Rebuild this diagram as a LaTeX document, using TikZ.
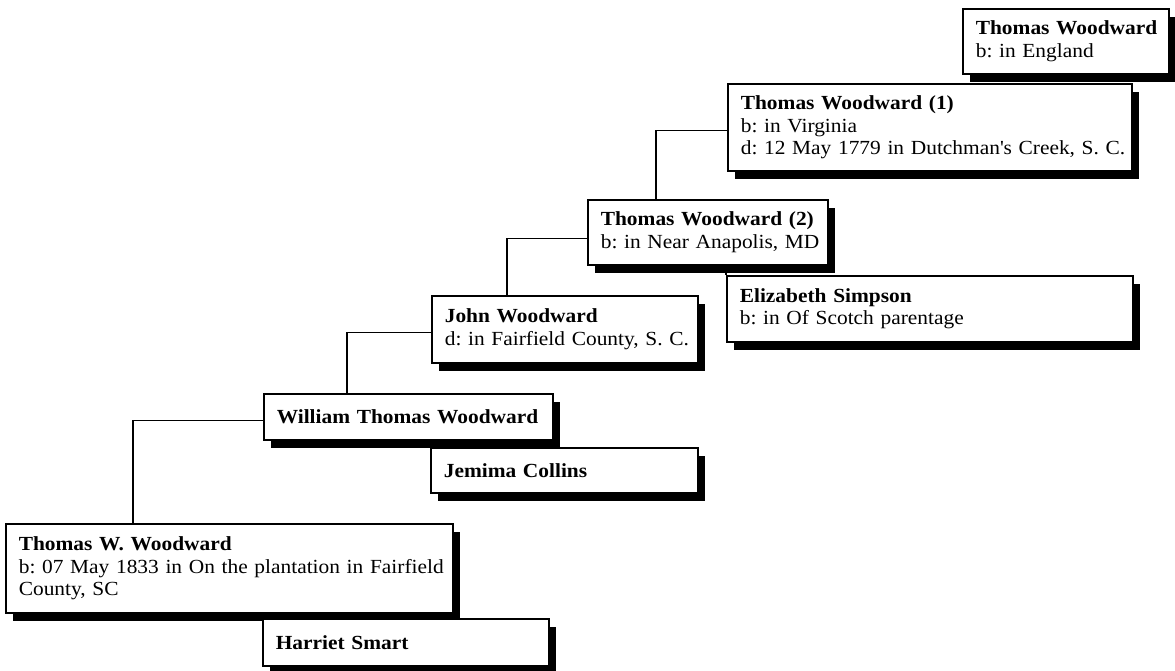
\documentclass[tikz,border=0pt]{standalone}
\usepackage{fontspec}
\setmainfont[FakeStretch=1.07]{Liberation Serif}
\usetikzlibrary{shadows}
\frenchspacing
\tikzset{
  person/.style={draw=black, line width=1.6pt, fill=white, anchor=north west,
    align=left, inner xsep=13pt, inner ysep=0pt,
    font=\fontsize{20}{22.5}\selectfont,
    drop shadow={shadow xshift=7pt, shadow yshift=-8pt, fill=black, opacity=1}},
  link/.style={draw=black, line width=1.3pt}
}
\newcommand{\pbox}[7]{% name, x, y, w, h, text width, text
  \node[person, minimum width=#4pt, minimum height=#5pt, text width=#6pt] (#1) at (#2,#3) {#7};}
\begin{document}
\begin{tikzpicture}[x=1pt,y=-1pt]
\useasboundingbox (0,0) rectangle (1175,670);
\pbox{B1}{962}{8}{206}{65}{180}{\mbox{\textbf{Thomas Woodward}}\\\mbox{b: in England}}
\pbox{B2}{727}{83}{404}{87}{378}{\mbox{\textbf{Thomas Woodward (1)}}\\\mbox{b: in Virginia}\\\mbox{d: 12 May 1779 in Dutchman\textquotesingle s Creek, S. C.}}
\pbox{B3}{587}{199}{240}{65}{214}{\mbox{\textbf{Thomas Woodward (2)}}\\\mbox{b: in Near Anapolis, MD}}
\pbox{E}{726}{275}{406}{66}{380}{\mbox{\textbf{Elizabeth Simpson}}\\\mbox{b: in Of Scotch parentage}}
\pbox{J}{431}{295}{266}{67}{240}{\mbox{\textbf{John Woodward}}\\\mbox{d: in Fairfield County, S. C.}}
\pbox{W}{263}{393}{289}{46}{263}{\mbox{\textbf{William Thomas Woodward}}}
\pbox{Je}{430}{447}{267}{45}{241}{\mbox{\textbf{Jemima Collins}}}
\pbox{T}{5}{523}{447}{89}{421}{\mbox{\textbf{Thomas W. Woodward}}\\\mbox{b: 07 May 1833 in On the plantation in Fairfield}\\\mbox{County, SC}}
\pbox{H}{262}{618}{286}{47}{260}{\mbox{\textbf{Harriet Smart}}}
% connectors
\draw[link] ([yshift=-3.5pt]B2.west) -| ([xshift=69pt]B3.north west);
\draw[link] ([yshift=-6.5pt]B3.west) -| ([xshift=76pt]J.north west);
\draw[link] ([yshift=-3.5pt]J.west) -| ([xshift=84pt]W.north west);
\draw[link] ([yshift=-4pt]W.west) -| ([xshift=128pt]T.north west);
\draw[link] (B3.south -| E.north west) -- (E.north west);
\draw[link] (W.south -| Je.north west) -- (Je.north west);
\draw[link] (T.south -| H.north west) -- (H.north west);
\end{tikzpicture}
\end{document}
